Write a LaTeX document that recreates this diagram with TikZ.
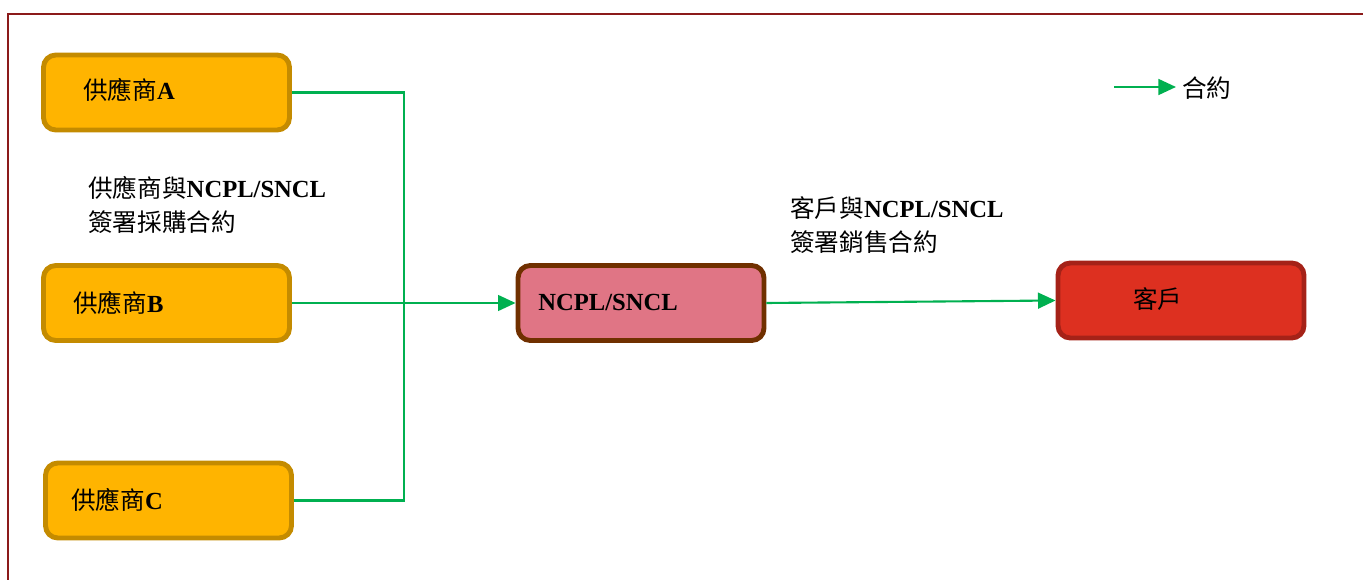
\documentclass[tikz,border=0pt]{standalone}
\usepackage{fontspec}
\setmainfont{Liberation Serif}
\newfontfamily\cjk{Noto Sans CJK TC}
\usepackage{tikz}
\usetikzlibrary{arrows.meta,positioning,calc}
\newcommand{\zh}[1]{{\cjk #1}}
\definecolor{suppfill}{RGB}{255,180,0}
\definecolor{suppline}{RGB}{196,139,0}
\definecolor{ncplfill}{RGB}{224,117,133}
\definecolor{ncplline}{RGB}{112,48,0}
\definecolor{custfill}{RGB}{221,48,32}
\definecolor{custline}{RGB}{165,34,24}
\definecolor{contract}{RGB}{0,176,80}
\definecolor{frame}{RGB}{139,26,26}

\begin{document}
\begin{tikzpicture}[x=0.02cm, y=-0.02cm,
    box/.style={rounded corners=7pt, line width=2.8pt, minimum width=4.92cm, minimum height=1.5cm},
    supplier/.style={box, draw=suppline, fill=suppfill},
    firm/.style={box, draw=ncplline, fill=ncplfill},
    client/.style={box, draw=custline, fill=custfill},
    txt/.style={anchor=west, inner sep=0pt, font=\fontsize{14}{19}\selectfont, align=left},
    link/.style={draw=contract, line width=1.2pt},
    tip/.style={-{Triangle[length=10pt, width=9pt]}}]
    \useasboundingbox (0,0) rectangle (1363,580);
    \draw[frame, line width=1.2pt] (8,580) -- (8,14) -- (1363,14);

    \node[supplier] (supA) at (166.5, 92.5) {};
    \node[supplier] (supB) at (166.5, 303) {};
    \node[supplier] (supC) at (168.5, 500.5) {};
    \node[firm] (ncpl) at (641, 303) {};
    \node[client] (cust) at (1181, 300.5) {};

    \node[txt] (tA) at (83, 90) {\zh{供應商}\textbf{A}};
    \node[txt] (tB) at (73, 303) {\zh{供應商}\textbf{B}};
    \node[txt] (tC) at (71, 500) {\zh{供應商}\textbf{C}};
    \node[txt] (tN) at (538, 302) {\textbf{NCPL/SNCL}};
    \node[txt] (tK) at (1133, 299) {\zh{客戶}};

    \node[txt] (buy) at (88, 205) {\zh{供應商與}\textbf{NCPL/SNCL}\\\zh{簽署採購合約}};
    \node[txt] (sell) at (790, 225) {\zh{客戶與}\textbf{NCPL/SNCL}\\\zh{簽署銷售合約}};

    \coordinate (join) at (404, 303);
    \draw[link] (supA.east) -| (join);
    \draw[link] (supC.east) -| (join);
    \draw[link, tip] (supB.east) -- (ncpl.west);
    \draw[link, tip] (ncpl.east) -- (cust.west);

    \coordinate (keyA) at (1114, 87);
    \coordinate (keyB) at (1176, 87);
    \node[txt] (key) at (1182, 88) {\zh{合約}};
    \draw[link, tip] (keyA) -- (keyB);
\end{tikzpicture}
\end{document}
